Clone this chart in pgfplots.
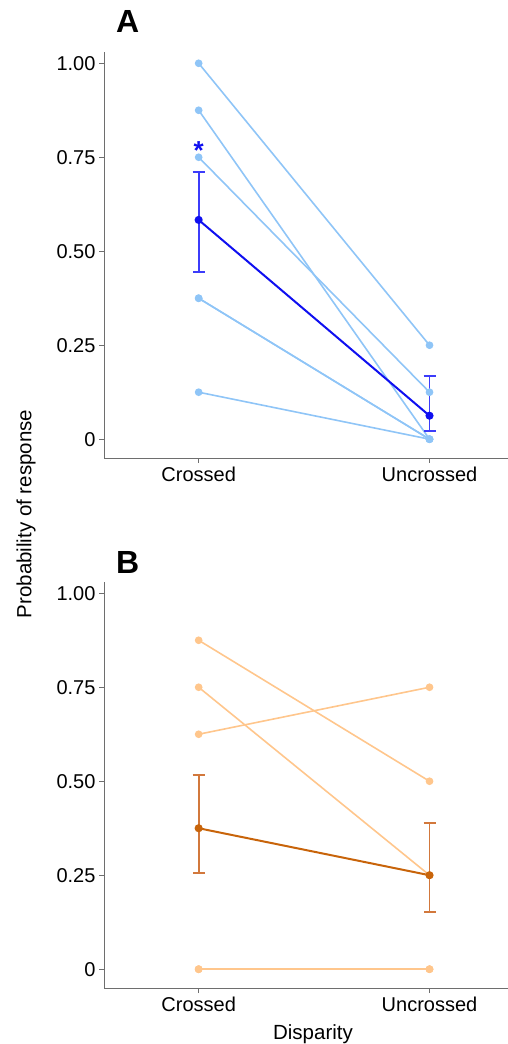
\documentclass[border=0pt]{standalone}
\usepackage{pgfplots}
\pgfplotsset{compat=1.18}
\usepackage{fontspec}
\setmainfont{Liberation Sans}
\definecolor{lblue}{RGB}{143,197,247}
\definecolor{dblue}{RGB}{15,15,240}
\definecolor{eblue}{RGB}{60,60,250}
\definecolor{lorange}{RGB}{255,198,140}
\definecolor{dorange}{RGB}{200,100,10}
\definecolor{eorange}{RGB}{210,120,60}
\definecolor{axgray}{RGB}{110,110,110}
\pgfplotsset{
 panel/.style={
  scale only axis, width=404pt, height=406pt,
  xmin=0.59, xmax=2.34, ymin=-0.05, ymax=1.03,
  axis lines=left, axis line style={-, axgray, line width=0.9pt},
  xtick={1,2}, xticklabels={Crossed,Uncrossed},
  ytick={0,0.25,0.5,0.75,1}, yticklabels={0,0.25,0.50,0.75,1.00},
  tick style={axgray, line width=0.9pt}, tick align=outside, major tick length=5pt,
  tick label style={font=\fontsize{20}{24}\selectfont, text=black},
  /pgf/number format/assume math mode=true,
  clip=false,
 },
 indiv/.style={line width=1.6pt, mark=*, mark size=3pt, mark options={solid}},
}
\begin{document}
\begin{tikzpicture}
\path[use as bounding box] (0,0) rectangle (508pt,1044pt);
% Panel A
\begin{axis}[panel, at={(104pt,586pt)}, anchor=south west]
\addplot[lblue, indiv] coordinates {(1,1.000) (2,0.250)};
\addplot[lblue, indiv] coordinates {(1,0.875) (2,0.000)};
\addplot[lblue, indiv] coordinates {(1,0.750) (2,0.125)};
\addplot[lblue, indiv] coordinates {(1,0.375) (2,0.000)};
\addplot[lblue, indiv] coordinates {(1,0.375) (2,0.000)};
\addplot[lblue, indiv] coordinates {(1,0.125) (2,0.000)};
\addplot[dblue, line width=2pt, mark=*, mark size=3pt,
  error bars/.cd, y dir=both, y explicit,
  error bar style={eblue, line width=1.8pt},
  error mark options={eblue, line width=1.8pt, mark size=6pt, rotate=90}]
  coordinates {(1,0.5833) += (0,0.127) -= (0,0.139)
               (2,0.0625) += (0,0.106) -= (0,0.040)};
\node[anchor=base, inner sep=0, text=dblue, font=\fontsize{26}{30}\selectfont\bfseries] at (axis cs:1,0.745) {*};
\end{axis}
% Panel B
\begin{axis}[panel, at={(104pt,56pt)}, anchor=south west]
\addplot[lorange, indiv] coordinates {(1,0.875) (2,0.500)};
\addplot[lorange, indiv] coordinates {(1,0.750) (2,0.250)};
\addplot[lorange, indiv] coordinates {(1,0.625) (2,0.750)};
\addplot[lorange, indiv] coordinates {(1,0.000) (2,0.000)};
\addplot[lorange, indiv] coordinates {(1,0.000) (2,0.000)};
\addplot[lorange, indiv] coordinates {(1,0.000) (2,0.000)};
\addplot[dorange, line width=2pt, mark=*, mark size=3pt,
  error bars/.cd, y dir=both, y explicit,
  error bar style={eorange, line width=1.8pt},
  error mark options={eorange, line width=1.8pt, mark size=6pt, rotate=90}]
  coordinates {(1,0.375) += (0,0.142) -= (0,0.120)
               (2,0.250) += (0,0.139) -= (0,0.098)};
\end{axis}
% Panel letters and shared titles
\node[anchor=base west, inner sep=0, font=\fontsize{32}{38}\selectfont\bfseries] at (116pt,1011pt) {A};
\node[anchor=base west, inner sep=0, font=\fontsize{32}{38}\selectfont\bfseries] at (116pt,470pt) {B};
\node[rotate=90, inner sep=0, font=\fontsize{20.5}{24}\selectfont] at (26pt,530pt) {Probability of response};
\node[anchor=base, inner sep=0, font=\fontsize{20.5}{24}\selectfont] at (313pt,5pt) {Disparity};
\end{tikzpicture}
\end{document}
